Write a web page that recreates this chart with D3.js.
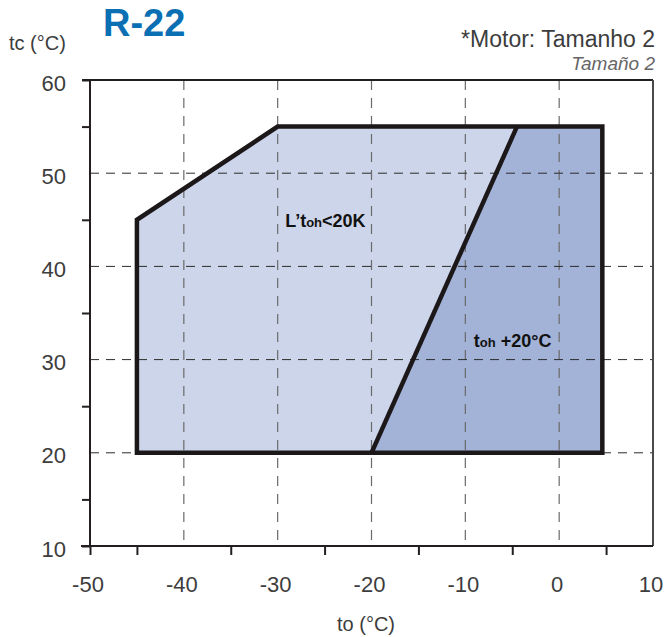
<!DOCTYPE html>
<html>
<head>
<meta charset="utf-8">
<script src="https://cdn.jsdelivr.net/npm/d3@7"></script>
<style>
  body { margin: 0; background: #fff; }
  svg { font-family: "Liberation Sans", Arial, sans-serif; }
</style>
</head>
<body>
<div id="chart"></div>
<script>
const width = 670;
const height = 637;

// data
const xTicks = [-50, -40, -30, -20, -10, 0, 10];
const yTicks = [10, 20, 30, 40, 50, 60];
const xMinor = [-45, -35, -25, -15, -5, 5];
const yMinor = [15, 25, 35, 45, 55];
const xGrid = [-40, -30, -20, -10, 0];
const yGrid = [20, 30, 40, 50];
const leftZone = [[-45, 20], [-45, 45], [-30, 55], [-4.5, 55], [-20, 20]];
const rightZone = [[-20, 20], [-4.5, 55], [4.6, 55], [4.6, 20]];
const envelope = [[-45, 20], [-45, 45], [-30, 55], [4.6, 55], [4.6, 20]];
const divider = [[-20, 20], [-4.5, 55]];

let x = d3.scaleLinear().domain([-50, 10]).range([90, 653]);
let y = d3.scaleLinear().domain([10, 60]).range([546, 80]);
let line = d3.line().x(d => x(d[0])).y(d => y(d[1]));

let svg = d3.select("#chart").append("svg")
  .attr("width", width)
  .attr("height", height);

// zones
svg.append("path").attr("d", line(leftZone) + "Z").attr("fill", "#cdd5ea");
svg.append("path").attr("d", line(rightZone) + "Z").attr("fill", "#a3b3d7");

// dashed grid
svg.selectAll("line.vgrid")
  .data(xGrid)
  .enter().append("line")
  .attr("x1", d => x(d)).attr("x2", d => x(d))
  .attr("y1", y(60)).attr("y2", y(10))
  .attr("stroke", "#6a6a6a").attr("stroke-width", 1.2)
  .attr("stroke-dasharray", "10,8");
svg.selectAll("line.hgrid")
  .data(yGrid)
  .enter().append("line")
  .attr("x1", x(-50)).attr("x2", x(10))
  .attr("y1", d => y(d)).attr("y2", d => y(d))
  .attr("stroke", "#2a2a2a").attr("stroke-width", 1)
  .attr("stroke-dasharray", "9,7");

// envelope outline
svg.append("path").attr("d", line(envelope) + "Z")
  .attr("fill", "none").attr("stroke", "#1c1819")
  .attr("stroke-width", 4.5).attr("stroke-linejoin", "miter");
svg.append("path").attr("d", line(divider))
  .attr("fill", "none").attr("stroke", "#1c1819").attr("stroke-width", 4.5);

// frame
svg.append("line").attr("x1", x(-50) - 8).attr("x2", x(10))
  .attr("y1", y(60)).attr("y2", y(60)).attr("stroke", "#231f20").attr("stroke-width", 2);
svg.append("line").attr("x1", x(10)).attr("x2", x(10))
  .attr("y1", y(60)).attr("y2", y(10)).attr("stroke", "#4a4a4a").attr("stroke-width", 2);

// axes
let xAxis = d3.axisBottom(x).tickValues([-50].concat(xMinor)).tickSize(9).tickFormat("");
let yAxis = d3.axisLeft(y).tickValues([10, 60].concat(yMinor)).tickSize(8).tickFormat("");

let gx = svg.append("g").attr("transform", "translate(0," + y(10) + ")").call(xAxis);
gx.select(".domain").attr("d", "M" + (x(-50) - 9) + ",0H" + x(10));
let gy = svg.append("g").attr("transform", "translate(" + x(-50) + ",0)").call(yAxis);
gy.select(".domain").attr("d", "M0," + y(60) + "V" + y(10));
svg.selectAll(".domain").attr("stroke", "#231f20").attr("stroke-width", 2);
svg.selectAll(".tick line").attr("stroke", "#231f20").attr("stroke-width", 2);

// tick labels
svg.selectAll("text.xl")
  .data(xTicks)
  .enter().append("text")
  .attr("x", d => x(d) - 2).attr("y", 592)
  .attr("text-anchor", "middle")
  .attr("font-size", 22).attr("fill", "#3d3d3d")
  .text(d => d);
svg.selectAll("text.yl")
  .data(yTicks)
  .enter().append("text")
  .attr("x", 66).attr("y", d => y(d) + 10.5)
  .attr("text-anchor", "end")
  .attr("font-size", 22).attr("fill", "#3d3d3d")
  .text(d => d);

// titles
svg.append("text").attr("x", 103).attr("y", 36)
  .attr("font-size", 38).attr("font-weight", "bold").attr("fill", "#0b6fb4")
  .text("R-22");
svg.append("text").attr("x", 9).attr("y", 50)
  .attr("font-size", 20).attr("fill", "#3d3d3d")
  .text("tc (°C)");
svg.append("text").attr("x", 366).attr("y", 631)
  .attr("text-anchor", "middle").attr("font-size", 20).attr("fill", "#3d3d3d")
  .text("to (°C)");
svg.append("text").attr("x", 655).attr("y", 47)
  .attr("text-anchor", "end").attr("font-size", 23).attr("fill", "#3d3d3d")
  .text("*Motor: Tamanho 2");
svg.append("text").attr("x", 655).attr("y", 70)
  .attr("text-anchor", "end").attr("font-size", 19).attr("font-style", "italic").attr("fill", "#666")
  .text("Tamaño 2");

// zone labels
let l1 = svg.append("text").attr("x", x(-29.2)).attr("y", y(44.25))
  .attr("font-size", 18).attr("font-weight", "bold").attr("fill", "#111");
l1.append("tspan").text("L’t");
l1.append("tspan").attr("font-size", 13).text("oh");
l1.append("tspan").text("<20K");

let l2 = svg.append("text").attr("x", x(-9.1)).attr("y", y(31.4))
  .attr("font-size", 18).attr("font-weight", "bold").attr("fill", "#111");
l2.append("tspan").text("t");
l2.append("tspan").attr("font-size", 13).text("oh");
l2.append("tspan").text(" +20°C");
</script>
</body>
</html>
